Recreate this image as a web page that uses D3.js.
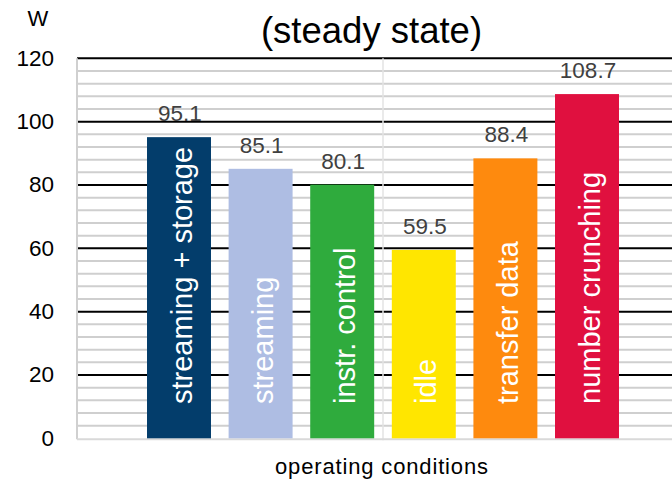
<!DOCTYPE html>
<html>
<head>
<meta charset="utf-8">
<script src="https://cdn.jsdelivr.net/npm/d3@7"></script>
<style>
  html, body { margin: 0; padding: 0; background: #fff; }
  svg { display: block; font-family: "Liberation Sans", Arial, sans-serif; }
</style>
</head>
<body>
<svg id="chart" width="672" height="481"></svg>
<script>
const categories = ["streaming + storage", "streaming", "instr. control", "idle", "transfer data", "number crunching"];
const values = [95.1, 85.1, 80.1, 59.5, 88.4, 108.7];
const barColors = ["#033d6b", "#aebde3", "#2fab3d", "#ffe600", "#fe8a0e", "#e0103f"];
const yTicks = [0, 20, 40, 60, 80, 100, 120];
const yMinorTicks = d3.range(0, 121, 4);
const title = "(steady state)";
const yUnit = "W";
const xTitle = "operating conditions";

const svg = d3.select("#chart");
const plotLeft = 77, plotRight = 672, plotTop = 58.3, plotBottom = 438.3;

const y = d3.scaleLinear().domain([0, 120]).range([plotBottom, plotTop]);
const x = d3.scaleBand().domain(categories).range([138.2, 627.8])
  .paddingInner(0.216).paddingOuter(0.108);

// minor gridlines
svg.append("g").selectAll("line").data(yMinorTicks.filter(v => v % 20 !== 0)).join("line")
  .attr("x1", plotLeft).attr("x2", plotRight)
  .attr("y1", d => y(d)).attr("y2", d => y(d))
  .attr("stroke", "#cfcfcf").attr("stroke-width", 2);

// major gridlines
svg.append("g").selectAll("line").data(yTicks.filter(v => v > 0)).join("line")
  .attr("x1", plotLeft).attr("x2", plotRight)
  .attr("y1", d => y(d)).attr("y2", d => y(d))
  .attr("stroke", "#000").attr("stroke-width", 2);

// left axis line
svg.append("line").attr("x1", plotLeft).attr("x2", plotLeft)
  .attr("y1", plotTop).attr("y2", plotBottom + 1)
  .attr("stroke", "#d0d0d0").attr("stroke-width", 2);

// center divider
const divX = (x(categories[2]) + x.bandwidth() + x(categories[3])) / 2;
svg.append("line").attr("x1", divX).attr("x2", divX)
  .attr("y1", plotTop).attr("y2", plotBottom + 2)
  .attr("stroke", "#e3e3e3").attr("stroke-width", 1.5);

// bottom axis
svg.append("line").attr("x1", plotLeft).attr("x2", plotRight)
  .attr("y1", plotBottom + 1).attr("y2", plotBottom + 1)
  .attr("stroke", "#d9d9d9").attr("stroke-width", 2);

// y tick labels
svg.append("g").selectAll("text").data(yTicks).join("text")
  .attr("x", 54).attr("y", d => y(d))
  .attr("text-anchor", "end").attr("dominant-baseline", "central")
  .attr("font-size", 22.5).attr("fill", "#000")
  .text(d => d);

// bars
svg.append("g").selectAll("rect").data(values).join("rect")
  .attr("x", (d, i) => x(categories[i]))
  .attr("y", d => y(d))
  .attr("width", x.bandwidth())
  .attr("height", d => y(0) - y(d))
  .attr("fill", (d, i) => barColors[i]);

// value labels
svg.append("g").selectAll("text").data(values).join("text")
  .attr("x", (d, i) => x(categories[i]) + x.bandwidth() / 2 + 1)
  .attr("y", d => y(d) - 16)
  .attr("text-anchor", "middle")
  .attr("font-size", 22.5).attr("fill", "#404040")
  .text(d => d.toFixed(1));

// bar category labels (rotated)
svg.append("g").selectAll("text").data(categories).join("text")
  .attr("transform", d => `translate(${x(d) + x.bandwidth() / 2 + 2.5},404) rotate(-90)`)
  .attr("text-anchor", "start").attr("dominant-baseline", "central")
  .attr("font-size", 29).attr("fill", "#fff")
  .text(d => d);

// title
svg.append("text").attr("x", 371.5).attr("y", 42.5)
  .attr("text-anchor", "middle").attr("font-size", 36.5).attr("fill", "#000")
  .text(title);

// unit
svg.append("text").attr("x", 38).attr("y", 26)
  .attr("text-anchor", "middle").attr("font-size", 22).attr("fill", "#000")
  .text(yUnit);

// x title
svg.append("text").attr("x", 381.5).attr("y", 474)
  .attr("text-anchor", "middle").attr("font-size", 22).attr("fill", "#000")
  .attr("textLength", 213).attr("lengthAdjust", "spacing")
  .text(xTitle);
</script>
</body>
</html>
